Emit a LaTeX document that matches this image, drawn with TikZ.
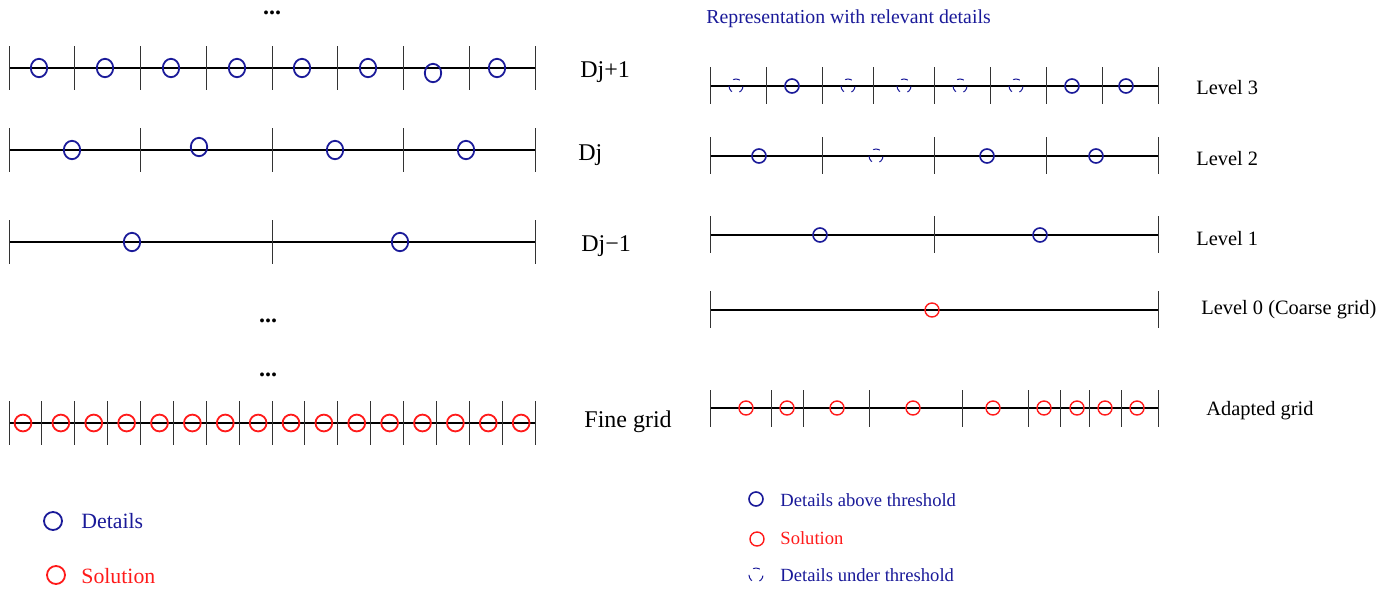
\documentclass[tikz,border=0pt]{standalone}
\usepackage{fontspec}
\setmainfont{Liberation Serif}
\usetikzlibrary{shapes.geometric}
\definecolor{detblue}{HTML}{1A1A99}
\definecolor{solred}{HTML}{FF1A1A}
\tikzset{
  axis/.style={line width=1pt,color=black},
  tick/.style={line width=0.5pt,color=black!80},
  det/.style={ellipse,draw=detblue,line width=0.9pt,minimum width=8.2pt,minimum height=9.2pt,inner sep=0pt},
  sol/.style={circle,draw=solred,line width=0.9pt,minimum size=8.4pt,inner sep=0pt},
  rdet/.style={circle,draw=detblue,line width=0.8pt,minimum size=7pt,inner sep=0pt},
  rsol/.style={circle,draw=solred,line width=0.7pt,minimum size=7pt,inner sep=0pt},
  rund/.style={circle,draw=detblue,line width=0.5pt,minimum size=7pt,inner sep=0pt,
    dash pattern=on 3.4pt off 3.93pt,dash phase=3.83pt},
  dots/.style={anchor=base,inner sep=0pt,font=\fontsize{12}{14}\selectfont\bfseries},
  big/.style={anchor=west,inner sep=0pt,font=\fontsize{12}{14}\selectfont},
  lvl/.style={anchor=west,inner sep=0pt,font=\fontsize{10.2}{12}\selectfont},
  leg/.style={anchor=west,inner sep=0pt,font=\fontsize{10.9}{13}\selectfont},
  rleg/.style={anchor=west,inner sep=0pt,font=\fontsize{9.3}{11}\selectfont,text=detblue}
}
\begin{document}
\begin{tikzpicture}[x=0.5pt,y=-0.5pt]
  \useasboundingbox (0,0) rectangle (1392,590);
  % left: dyadic grids
  \node[dots] (dtop) at (272,14) {...};
  \draw[axis] (9,68) -- (535,68);
  \foreach \i in {0,...,8} \draw[tick] (9+65.75*\i,46) -- (9+65.75*\i,90);
  \foreach \x/\y [count=\k] in {39/68,105/68,171/68,237/68,302/68,368/68,433/73,497/68}
    \node[det] (a\k) at (\x,\y) {};
  \node[big] (lja) at (580,72) {Dj+1};
  \draw[axis] (9,150) -- (535,150);
  \foreach \i in {0,...,4} \draw[tick] (9+131.5*\i,128) -- (9+131.5*\i,172);
  \foreach \x/\y [count=\k] in {72/150,199/147,335/150,466/150}
    \node[det] (b\k) at (\x,\y) {};
  \node[big] (ljb) at (578,155) {Dj};
  \draw[axis] (9,242) -- (535,242);
  \foreach \i in {0,...,2} \draw[tick] (9+263*\i,220) -- (9+263*\i,264);
  \foreach \x [count=\k] in {132,400}
    \node[det] (c\k) at (\x,242) {};
  \node[big] (ljc) at (581,246) {Dj−1};
  \node[dots] (dmid) at (268,322) {...};
  \node[dots] (dlow) at (268,376) {...};
  \draw[axis] (9,423) -- (535,423);
  \foreach \i in {0,...,16} \draw[tick] (9+32.875*\i,401) -- (9+32.875*\i,445);
  \node[sol] (f1) at (23,423) {};
  \foreach \i in {1,...,15} \node[sol] (f\i) at (28+32.875*\i,423) {};
  \node[big] (lfine) at (584,422) {Fine grid};
  \node[det,minimum width=9pt,minimum height=9pt] (kdet) at (53,521) {};
  \node[leg,text=detblue] (tdet) at (81,521) {Details};
  \node[sol,minimum size=9pt] (ksol) at (56,575) {};
  \node[leg,text=solred] (tsol) at (81,576) {Solution};
  % right: adaptive representation
  \node[rleg,font=\fontsize{9.9}{12}\selectfont] (title) at (706,19) {Representation with relevant details};
  \draw[axis] (710,86) -- (1158,86);
  \foreach \x in {710,766,822,873,934,990,1046,1102,1158} \draw[tick] (\x,67) -- (\x,104);
  \foreach \x [count=\k] in {736,848,904,960,1016} \node[rund] (u\k) at (\x,86) {};
  \foreach \x [count=\k] in {792,1072,1126} \node[rdet] (p\k) at (\x,86) {};
  \node[lvl] (lv3) at (1196,88) {Level 3};
  \draw[axis] (710,156) -- (1158,156);
  \foreach \x in {710,822,934,1046,1158} \draw[tick] (\x,137) -- (\x,174);
  \node[rund] (q0) at (876,156) {};
  \foreach \x [count=\k] in {759,987,1096} \node[rdet] (q\k) at (\x,156) {};
  \node[lvl] (lv2) at (1196,159) {Level 2};
  \draw[axis] (710,235) -- (1158,235);
  \foreach \x in {710,934,1158} \draw[tick] (\x,216) -- (\x,253);
  \foreach \x [count=\k] in {820,1040} \node[rdet] (r\k) at (\x,235) {};
  \node[lvl] (lv1) at (1196,239) {Level 1};
  \draw[axis] (710,310) -- (1158,310);
  \foreach \x in {710,1158} \draw[tick] (\x,291) -- (\x,328);
  \node[rsol] (s0) at (932,310) {};
  \node[lvl] (lv0) at (1201,310) {Level 0 (Coarse grid)};
  \draw[axis] (710,408) -- (1158,408);
  \foreach \x in {710,771,803,869,962,1028,1060,1089,1121,1158} \draw[tick] (\x,390) -- (\x,427);
  \foreach \x [count=\k] in {746,787,837,913,993,1044,1077,1105,1137} \node[rsol] (g\k) at (\x,408) {};
  \node[lvl] (lvad) at (1206,411) {Adapted grid};
  \node[rdet] (kabove) at (756,499) {};
  \node[rleg] (tabove) at (780,500) {Details above threshold};
  \node[rsol] (kres) at (757,539) {};
  \node[rleg,text=solred] (tres) at (780,538) {Solution};
  \node[rund] (kunder) at (756,575) {};
  \node[rleg] (tunder) at (780,575) {Details under threshold};
\end{tikzpicture}
\end{document}
